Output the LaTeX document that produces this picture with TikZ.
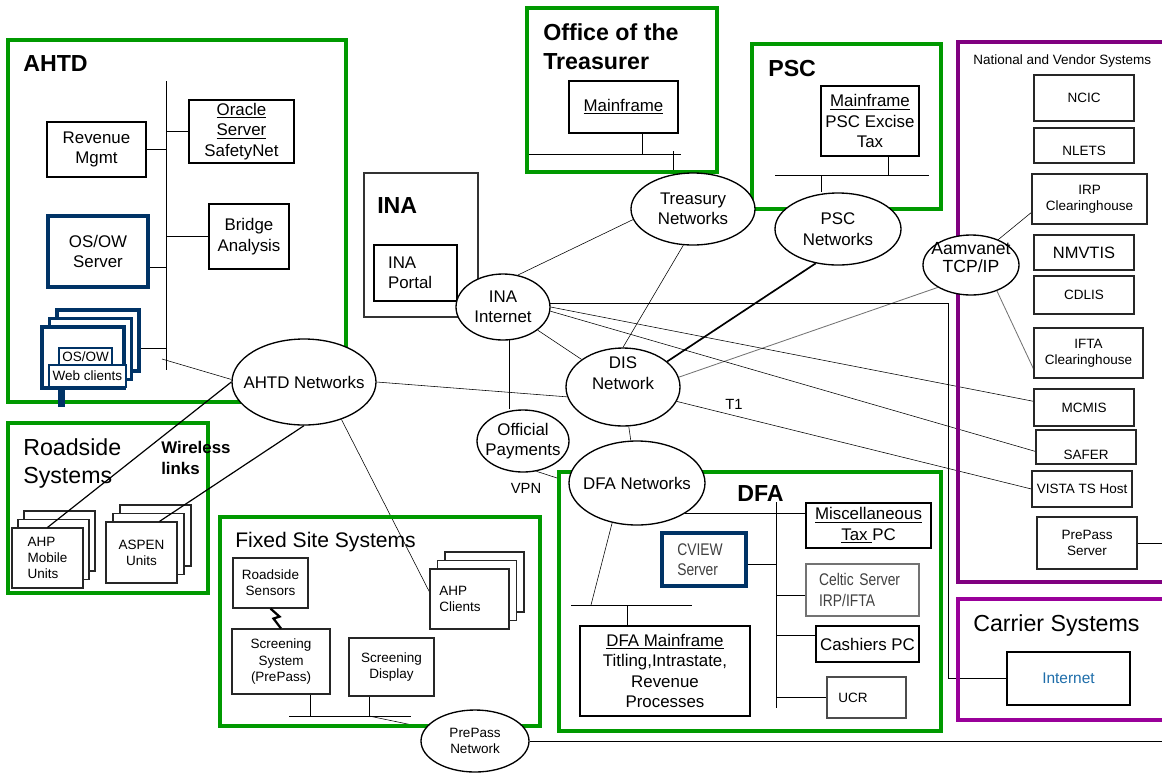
\documentclass[tikz,border=0pt]{standalone}
\usepackage{fontspec}
\setmainfont{Liberation Sans}
\newfontfamily\narrowfont[FakeStretch=0.82]{Liberation Sans}
\usetikzlibrary{shapes.geometric, backgrounds}

\definecolor{grpgreen}{RGB}{0,153,0}
\definecolor{navy}{RGB}{0,51,102}
\definecolor{vpurple}{RGB}{128,0,128}
\definecolor{cpurple}{RGB}{153,0,153}
\definecolor{inetblue}{RGB}{31,110,170}

\newcommand\pxu{0.025cm}
\newcommand\ftitle{\fontsize{16.5}{20.5}\selectfont\bfseries}
\newcommand\fgroup{\fontsize{16.5}{20}\selectfont}
\newcommand\fmed{\fontsize{12}{14.5}\selectfont}
\newcommand\fsmall{\fontsize{9.6}{11.5}\selectfont}

\tikzset{
  span/.style n args={4}{at={({(#1+#3)/2},{(#2+#4)/2})},
    minimum width=(#3-#1)*\pxu, minimum height=(#4-#2)*\pxu},
  grp/.style={draw=grpgreen, line width=2.5pt},
  vendgrp/.style={draw=vpurple, line width=2.2pt},
  box/.style={draw, line width=0.95pt, fill=white, inner sep=0pt, align=center, font=\fmed},
  sbox/.style={box, draw=black!85, line width=0.8pt, font=\fsmall},
  bluebox/.style={box, draw=navy, line width=2.3pt},
  pcbox/.style={box, line width=1.4pt},
  stack/.style={draw=black!85, line width=0.8pt, fill=white},
  net/.style={ellipse, draw, line width=0.95pt, fill=white, inner sep=0pt},
  link/.style={line width=0.85pt},
  greylink/.style={draw=black!55, line width=0.6pt},
  grouptitle/.style={font=\ftitle, inner sep=0pt, anchor=base west},
  grouplabel/.style={font=\fgroup, inner sep=0pt, anchor=base west},
}

\begin{document}
\begin{tikzpicture}[x=0.025cm, y=-0.025cm]
    \useasboundingbox (0,0) rectangle (1162,772);
    \clip (0,0) rectangle (1162,772);

    % group boxes
    \draw[grp] (8,40) rectangle (346,402);
    \draw[grp] (527,8) rectangle (717,172);
    \draw[grp] (752,44) rectangle (941,209);
    \draw[draw=black!80, line width=0.8pt] (364,173) rectangle (478,317);
    \draw[vendgrp] (958,42) rectangle (1180,582);
    \draw[vendgrp, draw=cpurple] (958,599) rectangle (1180,720);
    \draw[grp] (8,423) rectangle (208,593);
    \draw[grp] (220,517) rectangle (540,726);
    \draw[grp] (559,472) rectangle (941,731);

    \node[grouptitle] (ahtdtitle) at (23,71) {AHTD};
    \node[grouptitle] (treastitle) at (543,40) {Office of the};
    \node[grouptitle] (treastitleb) at (543,69) {Treasurer};
    \node[grouptitle] (psctitle) at (768,76) {PSC};
    \node[grouptitle] (inatitle) at (377,213) {INA};
    \node[grouptitle] (dfatitle) at (737,501) {DFA};
    \node[grouplabel] (roadtitle) at (23,455) {Roadside};
    \node[grouplabel] (roadtitleb) at (23,483) {Systems};
    \node[grouplabel, font=\fontsize{15}{18}\selectfont] (fixedtitle) at (235,547) {Fixed Site Systems};
    \node[grouplabel] (carriertitle) at (973,631) {Carrier Systems};
    \node[grouplabel, font=\fsmall] (vendtitle) at (973,64) {National and Vendor Systems};
    \node[grouplabel, font=\fmed\bfseries] (wireless) at (161,453) {Wireless};
    \node[grouplabel, font=\fmed\bfseries] (wirelessb) at (161,474) {links};
    \node[inner sep=0pt, anchor=base, font=\fontsize{10.5}{12}\selectfont] (vpn) at (526,493) {VPN};
    \node[inner sep=0pt, anchor=base, font=\fontsize{10.5}{12}\selectfont] (tone) at (734,409) {T1};

    % AHTD
    \node[box, span={189}{100}{294}{163}] (oracle) {\underline{Oracle}\\\underline{Server}\\SafetyNet};
    \node[box, span={47}{122}{146}{177}] (revmgmt) {Revenue\\Mgmt};
    \node[bluebox, span={48}{216}{148}{287}] (osowsrv) {OS/OW\\Server};
    \node[box, span={209}{204}{289}{269}] (bridge) {Bridge\\Analysis};
    \foreach \k in {2,1}
        \draw[draw=navy, line width=2.3pt, fill=white] (42+7.5*\k,327-8.5*\k) rectangle ++(82,61);
    \node[bluebox, span={42}{327}{124}{388}] (webclients) {};
    \node[bluebox, line width=1.8pt, font=\fsmall, span={59}{348}{112}{365}] (webos) {OS/OW};
    \node[bluebox, line width=1.8pt, font=\fsmall, span={49}{365}{126}{387}] (webtxt) {Web clients};
    \fill[navy] (58,388) rectangle (65,407);

    % Treasurer, PSC, INA
    \node[box, span={569}{81}{678}{133}] (treasmf) {\underline{Mainframe}};
    \node[box, span={821}{86}{919}{156}] (pscmf) {\underline{Mainframe}\\PSC Excise\\Tax};
    \node[box, span={374}{245}{457}{301}, text width=39pt, align=left] (inaportal) {INA\\Portal};

    % national and vendor systems
    \node[sbox, span={1034}{75}{1134}{121}] (ncic) {NCIC};
    \node[sbox, span={1034}{128}{1134}{163}, label={[font=\fsmall, yshift=-3.9pt]center:NLETS}] (nlets) {};
    \node[sbox, span={1032}{174}{1147}{224}] (irp) {IRP\\Clearinghouse};
    \node[sbox, span={1034}{235}{1134}{270}, font=\fontsize{11.7}{14}\selectfont] (nmvtis) {NMVTIS};
    \node[sbox, span={1034}{276}{1134}{314}] (cdlis) {CDLIS};
    \node[sbox, span={1034}{328}{1143}{378}] (ifta) {IFTA\\Clearinghouse};
    \node[sbox, span={1034}{389}{1134}{426}] (mcmis) {MCMIS};
    \node[sbox, span={1036}{430}{1136}{464}, label={[font=\fsmall, yshift=-5.7pt]center:SAFER}] (safer) {};
    \node[sbox, span={1032}{471}{1132}{507}] (vista) {VISTA TS Host};
    \node[sbox, span={1037}{517}{1137}{569}] (pps) {PrePass\\Server};
    \node[box, span={1007}{652}{1130}{705}, font=\fontsize{11}{13}\selectfont, text=inetblue] (carinet) {Internet};

    % roadside systems
    \foreach \k in {2,1}
        \draw[stack] (12+6*\k,528-8.5*\k) rectangle ++(71,60);
    \node[sbox, span={12}{528}{83}{588}, align=left] (ahpmobile) {AHP\\Mobile\\Units};
    \foreach \k in {2,1}
        \draw[stack] (106+7*\k,522-8.5*\k) rectangle ++(71,61);
    \node[sbox, span={106}{522}{177}{583}] (aspen) {ASPEN\\Units};

    % fixed site systems
    \node[sbox, span={233}{558}{308}{608}] (rsensors) {Roadside\\Sensors};
    \node[sbox, span={232}{629}{330}{694}] (scrsys) {Screening\\System\\(PrePass)};
    \node[sbox, span={349}{638}{434}{696}] (scrdisp) {Screening\\Display};
    \foreach \k in {2,1}
        \draw[stack] (430+7.5*\k,569-8.5*\k) rectangle ++(79,60);
    \node[sbox, span={430}{569}{509}{629}, text width=43pt, align=left] (ahpclients) {AHP\\Clients};

    % DFA
    \node[pcbox, span={806}{503}{931}{548}] (misctax) {\underline{Miscellaneous}\\\underline{Tax }PC};
    \node[bluebox, span={662}{533}{746}{586}, text width=38pt, align=left, font=\narrowfont\fmed, text=black!75] (cview) {CVIEW\\Server};
    \node[box, draw=black!55, line width=0.8pt, span={806}{564}{919}{616}, text width=61.7pt, align=left, font=\narrowfont\fmed, text=black!75] (celtic) {Celtic Server\\IRP/IFTA};
    \node[pcbox, span={816}{626}{919}{662}] (cashiers) {Cashiers PC};
    \node[sbox, draw=black!70, span={827}{677}{906}{718}, text width=40pt, align=left] (ucr) {UCR};
    \node[pcbox, span={580}{626}{750}{716}] (dfamf) {\underline{DFA Mainframe}\\Titling,Intrastate,\\Revenue\\Processes};

    % networks
    \node[net, minimum width=144*\pxu, minimum height=86*\pxu, label={[font=\fmed]center:AHTD Networks}] (ahtdnet) at (304,382) {};
    \node[net, minimum width=94*\pxu, minimum height=66*\pxu, label={[font=\fmed, align=center]center:{INA\\Internet}}] (inanet) at (503,307) {};
    \node[net, minimum width=114*\pxu, minimum height=78*\pxu, label={[font=\fmed, align=center, yshift=9.9pt]center:{DIS\\Network}}] (dis) at (623,387) {};
    \node[net, minimum width=92*\pxu, minimum height=62*\pxu, label={[font=\fmed, align=center]center:{Official\\Payments}}] (offpay) at (523,441) {};
    \node[net, minimum width=136*\pxu, minimum height=84*\pxu, label={[font=\fmed]center:DFA Networks}] (dfanet) at (637,483) {};
    \node[net, minimum width=124*\pxu, minimum height=72*\pxu, label={[font=\fmed, align=center]center:{Treasury\\Networks}}] (treasnet) at (693,209) {};
    \node[net, minimum width=126*\pxu, minimum height=72*\pxu, label={[font=\fmed, align=center]center:{PSC\\Networks}}] (pscnet) at (838,229) {};
    \node[net, minimum width=96*\pxu, minimum height=60*\pxu, label={[font=\fontsize{12.5}{13}\selectfont, align=center, yshift=5.3pt]center:{Aamvanet\\TCP/IP}}] (aamva) at (971,265) {};
    \node[net, minimum width=108*\pxu, minimum height=62*\pxu, label={[font=\fsmall, align=center]center:{PrePass\\Network}}] (ppnet) at (475,741) {};

    \draw[link] (ahtdnet.west) -- (ahpmobile.north);
    \draw[link] (ahtdnet.south) -- (aspen.60);
    \draw[line width=1.6pt] (rsensors.south) -- ++(9,8) -- ++(-6,2) -- (scrsys.north);

    \begin{scope}[on background layer, link]
        % AHTD bus
        \coordinate (abusT) at (166,81);
        \coordinate (abusB) at (166,370);
        \draw (abusT) -- (abusB);
        \draw (oracle.west) -- (oracle.west -| abusT);
        \draw (revmgmt.east) -- (revmgmt.east -| abusT);
        \draw (bridge.west) -- (bridge.west -| abusT);
        \draw (osowsrv.-17) -- (osowsrv.-17 -| abusT);
        \coordinate (wcport) at (128,348);
        \draw (wcport) -- (wcport -| abusT);
        \coordinate (abusnet) at (162,359);
        \draw (abusnet) -- (ahtdnet.178);
        % treasurer and PSC buses
        \coordinate (tbusL) at (528,154);
        \coordinate (tbusR) at (681,154);
        \draw (tbusL) -- (tbusR);
        \coordinate (tmfport) at (642,154);
        \draw (tmfport |- treasmf.south) -- (tmfport);
        \coordinate (tdrop) at (673,151);
        \draw (tdrop) -- (tdrop |- treasnet.north);
        \coordinate (pbusL) at (775,175);
        \coordinate (pbusR) at (929,175);
        \draw (pbusL) -- (pbusR);
        \coordinate (pmfport) at (888,175);
        \draw (pmfport |- pscmf.south) -- (pmfport);
        \coordinate (pdrop) at (821,175);
        \draw (pdrop) -- (pdrop |- pscnet.north);
        % fixed site bus
        \coordinate (fbusL) at (289,716);
        \coordinate (fbusR) at (411,716);
        \coordinate (fport1) at (310,716);
        \coordinate (fport2) at (369,716);
        \draw (fbusL) -- (fbusR);
        \draw (fport1 |- scrsys.south) -- (fport1);
        \draw (fport2 |- scrdisp.south) -- (fport2);
        \draw (fport2) -- (ppnet.165);
        % DFA buses
        \coordinate (dbusT) at (776,502);
        \coordinate (dbusB) at (776,708);
        \draw (dbusT) -- (dbusB);
        \draw (dfanet.-32) -- (dfanet.-32 -| misctax.west);
        \draw (cview.-6) -- (cview.-6 -| dbusT);
        \draw (celtic.185) -- (celtic.185 -| dbusT);
        \draw (cashiers.171) -- (cashiers.171 -| dbusT);
        \draw (ucr.west) -- (ucr.west -| dbusT);
        \coordinate (dmbusL) at (571,605);
        \coordinate (dmbusR) at (692,605);
        \draw (dmbusL) -- (dmbusR);
        \coordinate (dmport) at (627,605);
        \draw (dmport) -- (dmport |- dfamf.north);
        \coordinate (dmnet) at (591,605);
        \draw (dfanet.238) -- (dmnet);
        % network links
        \draw (ahtdnet.east) -- (dis.190);
        \draw (ahtdnet.-45) -- (ahpclients.170);
        \draw (inanet.65) -- (treasnet.190);
        \draw (treasnet.255) -- (dis.north);
        \draw[line width=1.2pt] (pscnet.237) -- (dis.30);
        \draw[greylink] (aamva.214) -- (dis.10);
        \draw (inanet) -- (dis);
        \draw (inanet.-80) -- (inanet.-80 |- offpay.north);
        \draw (dis) -- (dfanet);
        \coordinate (vpnend) at (557,478);
        \draw (offpay.-66) -- (vpnend);
        \draw (dis.-15) -- (vista.west);
        \draw (inanet.0) -- (mcmis.173);
        \draw (inanet.-5) -- (safer.185);
        \coordinate (inacorner) at (948,304);
        \draw (inanet.4) -- (inanet.4 -| inacorner) |- (carinet.west);
        \draw (aamva.43) -- (irp.193);
        \draw[greylink] (aamva.-45) -- (ifta.196);
        \coordinate (rightedge) at (1162,0);
        \draw (pps.east) -- (pps.east -| rightedge);
        \draw (ppnet.east) -- (ppnet.east -| rightedge);
    \end{scope}
\end{tikzpicture}
\end{document}
